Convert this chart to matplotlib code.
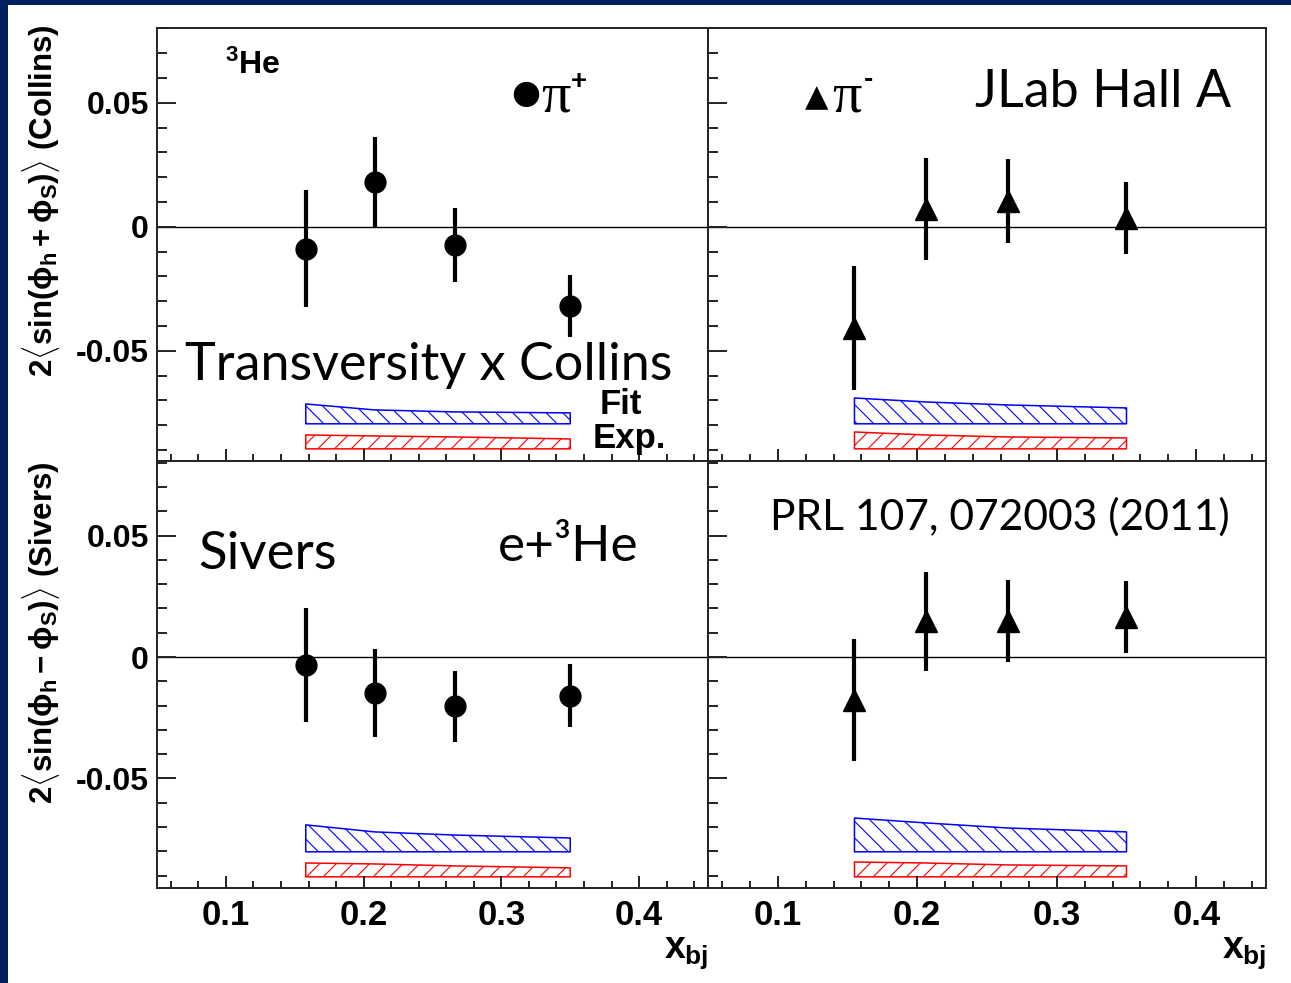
import matplotlib
matplotlib.use("Agg")
import matplotlib.pyplot as plt
from matplotlib.ticker import MultipleLocator, FuncFormatter
from matplotlib.patches import Rectangle

# x_bj bins
xPip = [0.158, 0.208, 0.266, 0.350]
xPim = [0.155, 0.206, 0.265, 0.350]

# Collins moments
collinsPip = [-0.0089, 0.0181, -0.0073, -0.0319]
collinsPipErr = [0.0236, 0.0180, 0.0150, 0.0125]
collinsPim = [-0.0407, 0.0073, 0.0105, 0.0036]
collinsPimErr = [0.0250, 0.0205, 0.0170, 0.0147]

# Sivers moments
siversPip = [-0.0033, -0.0148, -0.0202, -0.0160]
siversPipErr = [0.0236, 0.0180, 0.0146, 0.0130]
siversPim = [-0.0177, 0.0148, 0.0148, 0.0165]
siversPimErr = [0.0250, 0.0204, 0.0170, 0.0150]

# systematic bands (low edge, high edge): fit (blue) and experimental (red)
collinsPipFitLow = [-0.0794, -0.0794, -0.0794, -0.0794]
collinsPipFitHigh = [-0.0714, -0.0738, -0.0746, -0.0750]
collinsPipExpLow = [-0.0895, -0.0895, -0.0895, -0.0895]
collinsPipExpHigh = [-0.0839, -0.0843, -0.0847, -0.0855]

collinsPimFitLow = [-0.0794, -0.0794, -0.0794, -0.0794]
collinsPimFitHigh = [-0.0690, -0.0706, -0.0718, -0.0730]
collinsPimExpLow = [-0.0895, -0.0895, -0.0895, -0.0895]
collinsPimExpHigh = [-0.0827, -0.0839, -0.0847, -0.0851]

siversPipFitLow = [-0.0802, -0.0802, -0.0802, -0.0802]
siversPipFitHigh = [-0.0691, -0.0720, -0.0733, -0.0745]
siversPipExpLow = [-0.0905, -0.0905, -0.0905, -0.0905]
siversPipExpHigh = [-0.0848, -0.0852, -0.0860, -0.0868]

siversPimFitLow = [-0.0802, -0.0802, -0.0802, -0.0802]
siversPimFitHigh = [-0.0663, -0.0683, -0.0704, -0.0720]
siversPimExpLow = [-0.0905, -0.0905, -0.0905, -0.0905]
siversPimExpHigh = [-0.0844, -0.0848, -0.0856, -0.0860]

plt.rcParams['font.family'] = ['Liberation Sans', 'DejaVu Sans']
plt.rcParams['font.weight'] = 'bold'
plt.rcParams['mathtext.fontset'] = 'custom'
plt.rcParams['mathtext.rm'] = 'Liberation Sans:bold'
plt.rcParams['mathtext.it'] = 'Liberation Sans:bold'
plt.rcParams['mathtext.bf'] = 'Liberation Sans:bold'
plt.rcParams['hatch.linewidth'] = 0.8

W, H = 1291.0, 983.0
fig = plt.figure(figsize=(W / 100, H / 100), dpi=100)

# dark slide border (top and left)
fig.add_artist(Rectangle((0, 1 - 5 / H), 1, 5 / H, transform=fig.transFigure, color='#002060', lw=0))
fig.add_artist(Rectangle((0, 0), 8 / W, 1, transform=fig.transFigure, color='#002060', lw=0))

def pxAxes(x0, y0, x1, y1):
    return fig.add_axes([x0 / W, 1 - y1 / H, (x1 - x0) / W, (y1 - y0) / H])

axTL = pxAxes(157, 28, 708, 461)
axTR = pxAxes(708, 28, 1266, 461)
axBL = pxAxes(157, 461, 708, 888)
axBR = pxAxes(708, 461, 1266, 888)

fmt = FuncFormatter(lambda v, p: '0' if abs(v) < 1e-9 else '{:g}'.format(round(v, 3)))

def drawPanel(ax, x, y, yerr, marker, ms, fitLow, fitHigh, expLow, expHigh, ylim):
    ax.axhline(0, color='black', lw=1.0, zorder=1)
    ax.fill_between(x, fitLow, fitHigh, facecolor='none', edgecolor='blue', hatch='\\\\', lw=1.1)
    ax.fill_between(x, expLow, expHigh, facecolor='none', edgecolor='red', hatch='//', lw=1.1)
    ax.errorbar(x, y, yerr=yerr, fmt=marker, color='black', ms=ms, elinewidth=3, capsize=0, zorder=5)
    ax.set_xlim(0.05, 0.45)
    ax.set_ylim(*ylim)
    ax.xaxis.set_major_locator(MultipleLocator(0.1))
    ax.xaxis.set_minor_locator(MultipleLocator(0.02))
    ax.yaxis.set_major_locator(MultipleLocator(0.05))
    ax.yaxis.set_minor_locator(MultipleLocator(0.01))
    ax.xaxis.set_major_formatter(fmt)
    ax.yaxis.set_major_formatter(fmt)
    ax.tick_params(which='both', direction='in', top=False, right=False, width=1.4, color='#222222')
    ax.tick_params(axis='y', which='major', length=14, labelsize=23, pad=6)
    ax.tick_params(axis='y', which='minor', length=7)
    ax.tick_params(axis='x', which='major', length=9, labelsize=25, pad=8)
    ax.tick_params(axis='x', which='minor', length=5)
    for s in ax.spines.values():
        s.set_linewidth(1.4)
        s.set_color('#222222')

topLim = (-0.0944, 0.0802)
botLim = (-0.0951, 0.0807)
drawPanel(axTL, xPip, collinsPip, collinsPipErr, 'o', 15, collinsPipFitLow, collinsPipFitHigh,
          collinsPipExpLow, collinsPipExpHigh, topLim)
drawPanel(axTR, xPim, collinsPim, collinsPimErr, '^', 15.5, collinsPimFitLow, collinsPimFitHigh,
          collinsPimExpLow, collinsPimExpHigh, topLim)
drawPanel(axBL, xPip, siversPip, siversPipErr, 'o', 15, siversPipFitLow, siversPipFitHigh,
          siversPipExpLow, siversPipExpHigh, botLim)
drawPanel(axBR, xPim, siversPim, siversPimErr, '^', 15.5, siversPimFitLow, siversPimFitHigh,
          siversPimExpLow, siversPimExpHigh, botLim)

axTL.tick_params(axis='x', labelbottom=False)
axTR.tick_params(axis='x', labelbottom=False)
axTR.tick_params(axis='y', labelleft=False)
axBR.tick_params(axis='y', labelleft=False)

# axis titles
axTL.set_ylabel(r'$2\langle\mathrm{sin}(\phi_{h}+\phi_{S})\rangle$ (Collins)', fontsize=22.5,
                fontweight='bold', loc='top')
axTL.yaxis.set_label_coords(-0.172, 1.01)
axBL.set_ylabel(r'$2\langle\mathrm{sin}(\phi_{h}-\phi_{S})\rangle$ (Sivers)', fontsize=22.5,
                fontweight='bold', loc='top')
axBL.yaxis.set_label_coords(-0.172, 1.0)
for ax in (axBL, axBR):
    ax.set_xlabel(r'$x_{bj}$', fontsize=27, loc='right', labelpad=2)

# annotations
calibri = ['Lato', 'DejaVu Sans']
axTL.text(0.1234, 0.9145, r'$^{3}$He', transform=axTL.transAxes, fontsize=23, va='center')
axTL.text(0.6697, 0.8499, u'\u25cf', transform=axTL.transAxes, fontsize=24, ha='center', va='center',
          family='DejaVu Sans')
axTL.text(0.697, 0.84, u'\u03c0', transform=axTL.transAxes, fontsize=42, va='center',
          family='Liberation Serif', weight='normal')
axTL.text(0.752, 0.875, '+', transform=axTL.transAxes, fontsize=20, va='center')
axTR.text(0.195, 0.84, u'\u25b2', transform=axTR.transAxes, fontsize=22, ha='center', va='center',
          family='DejaVu Sans')
axTR.text(0.222, 0.84, u'\u03c0', transform=axTR.transAxes, fontsize=42, va='center',
          family='Liberation Serif', weight='normal')
axTR.text(0.28, 0.88, '-', transform=axTR.transAxes, fontsize=20, va='center')
axTR.text(0.4785, 0.85, 'JLab Hall A', transform=axTR.transAxes, fontsize=37.5, va='center',
          family=calibri, weight='normal')
axTL.text(0.0508, 0.2217, 'Transversity x Collins', transform=axTL.transAxes, fontsize=37.5,
          va='center', family=calibri, weight='normal')
axTL.text(0.804, 0.1316, 'Fit', transform=axTL.transAxes, fontsize=25, va='center')
axTL.text(0.7913, 0.052, 'Exp.', transform=axTL.transAxes, fontsize=25, va='center')
axBL.text(0.0744, 0.78, 'Sivers', transform=axBL.transAxes, fontsize=38, va='center',
          family=calibri, weight='normal')
axBL.text(0.619, 0.7986, u'e+\u00b3He', transform=axBL.transAxes, fontsize=37, va='center',
          family=calibri, weight='normal')
axBR.text(0.111, 0.8689, 'PRL 107, 072003 (2011)', transform=axBR.transAxes, fontsize=30.7,
          va='center', family=calibri, weight='normal')

fig.savefig('out.png', dpi=100)
